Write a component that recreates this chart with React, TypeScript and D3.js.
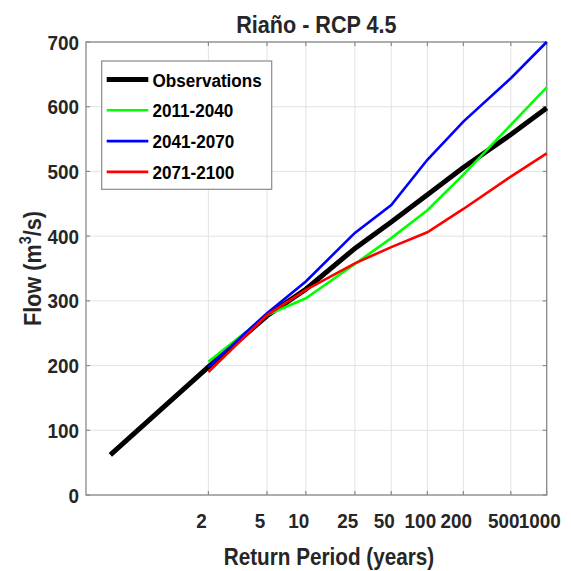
import React, { useRef, useEffect } from "react"
import * as d3 from "d3"

// return periods (years) shown on the Gumbel-scaled x axis
const tickPeriods = [2, 5, 10, 25, 50, 100, 200, 500, 1000]
const flowTicks = [0, 100, 200, 300, 400, 500, 600, 700]

const obsPeriods = [1.01, 2, 5, 10, 25, 50, 100, 200, 500, 1000]
const observations = [62, 198, 277, 318, 381, 422, 464, 506, 557, 598]

const scenarioPeriods = [2, 5, 10, 25, 50, 100, 200, 500, 1000]
const flow2011_2040 = [206, 278, 304, 357, 397, 440, 495, 572, 630]
const flow2041_2070 = [198, 281, 330, 405, 448, 518, 577, 644, 700]
const flow2071_2100 = [190, 278, 317, 358, 383, 406, 442, 492, 528]

const seriesNames = ["Observations", "2011-2040", "2041-2070", "2071-2100"]
const seriesColors = ["#000000", "#00ff00", "#0000ff", "#ff0000"]

// Gumbel reduced variate
const gumbel = (T: number) => -Math.log(-Math.log(1 - 1 / T))

type Pt = { T: number; q: number }

const App: React.FC = () => {
  const svgRef = useRef<SVGSVGElement | null>(null)
  const width = 571
  const height = 571

  useEffect(() => {
    if (!svgRef.current) return
    const svg = d3.select(svgRef.current)
    svg.selectAll("*").remove()

    const left = 86
    const right = 546.7
    const top = 42
    const bottom = 495
    const font = "'Liberation Sans', Arial, sans-serif"
    const textColor = "#262626"
    const frameColor = "#8a8a8a"
    const squeeze = 0.9 // the exported figure has slightly condensed lettering

    const label = (
      px: number,
      py: number,
      txt: string,
      size: number,
      anchor: string,
      color = textColor
    ) =>
      svg.append("text")
        .attr("transform", `translate(${px},${py}) scale(${squeeze},1)`)
        .attr("text-anchor", anchor)
        .style("font-family", font)
        .style("font-weight", "bold")
        .style("font-size", `${size}px`)
        .style("fill", color)
        .text(txt)

    const x = d3.scaleLinear().domain([-2, gumbel(1000)]).range([left, right])
    const y = d3.scaleLinear().domain([0, 700]).range([bottom, top])

    // grid
    const grid = svg.append("g").attr("stroke", "#e3e3e3").attr("stroke-width", 1)
    tickPeriods.forEach((T) => {
      grid.append("line")
        .attr("x1", x(gumbel(T))).attr("x2", x(gumbel(T)))
        .attr("y1", top).attr("y2", bottom)
    })
    flowTicks.forEach((v) => {
      grid.append("line")
        .attr("x1", left).attr("x2", right)
        .attr("y1", y(v)).attr("y2", y(v))
    })

    // frame and inward ticks
    svg.append("rect")
      .attr("x", left).attr("y", top)
      .attr("width", right - left).attr("height", bottom - top)
      .attr("fill", "none").attr("stroke", frameColor).attr("stroke-width", 1.3)
    const ticks = svg.append("g").attr("stroke", frameColor).attr("stroke-width", 1.2)
    tickPeriods.forEach((T) => {
      const px = x(gumbel(T))
      ticks.append("line").attr("x1", px).attr("x2", px).attr("y1", bottom).attr("y2", bottom - 4)
      ticks.append("line").attr("x1", px).attr("x2", px).attr("y1", top).attr("y2", top + 4)
    })
    flowTicks.forEach((v) => {
      ticks.append("line").attr("x1", left).attr("x2", left + 4).attr("y1", y(v)).attr("y2", y(v))
      ticks.append("line").attr("x1", right).attr("x2", right - 4).attr("y1", y(v)).attr("y2", y(v))
    })

    // tick labels
    tickPeriods.forEach((T) => label(x(gumbel(T)) - 7, 528, String(T), 21, "middle"))
    flowTicks.forEach((v) => label(79, y(v) + 7.5, String(v), 21, "end"))

    // lines
    const line = d3
      .line<Pt>()
      .x((d) => x(gumbel(d.T)))
      .y((d) => y(d.q))

    svg.append("path")
      .datum(observations.map((q, j) => ({ T: obsPeriods[j], q })))
      .attr("fill", "none")
      .attr("stroke", seriesColors[0])
      .attr("stroke-width", 5)
      .attr("d", line)

    const scenarios = [flow2011_2040, flow2041_2070, flow2071_2100]
    scenarios.forEach((vals, i) => {
      svg.append("path")
        .datum(vals.map((q, j) => ({ T: scenarioPeriods[j], q })))
        .attr("fill", "none")
        .attr("stroke", seriesColors[i + 1])
        .attr("stroke-width", 2.6)
        .attr("d", line)
    })

    // title and axis labels
    label((left + right) / 2, 33, "Riaño - RCP 4.5", 24, "middle")
    label(329, 565, "Return Period (years)", 23, "middle")

    const yl = svg.append("text")
      .attr("text-anchor", "middle")
      .attr("transform", `translate(41,${(top + bottom) / 2}) rotate(-90) scale(${squeeze},1)`)
      .style("font-family", font)
      .style("font-weight", "bold")
      .style("font-size", "24px")
      .style("fill", textColor)
    yl.append("tspan").text("Flow (m")
    yl.append("tspan").attr("dy", -10).style("font-size", "16px").text("3")
    yl.append("tspan").attr("dy", 10).text("/s)")

    // legend
    svg.append("rect")
      .attr("x", 101.7).attr("y", 61)
      .attr("width", 170).attr("height", 128.3)
      .attr("fill", "#ffffff").attr("stroke", frameColor).attr("stroke-width", 1.2)
    seriesNames.forEach((name, i) => {
      const cy = 79.5 + i * 30.8
      svg.append("line")
        .attr("x1", 106.7).attr("x2", 148.3)
        .attr("y1", cy).attr("y2", cy)
        .attr("stroke", seriesColors[i])
        .attr("stroke-width", i === 0 ? 5 : 2.6)
      label(152.5, cy + 7, name, 19, "start", "#000")
    })
  }, [])

  return (
    <svg
      ref={svgRef}
      width={width}
      height={height}
      style={{ position: "absolute", left: 0, top: 0, background: "#fff" }}
    ></svg>
  )
}

export default App
